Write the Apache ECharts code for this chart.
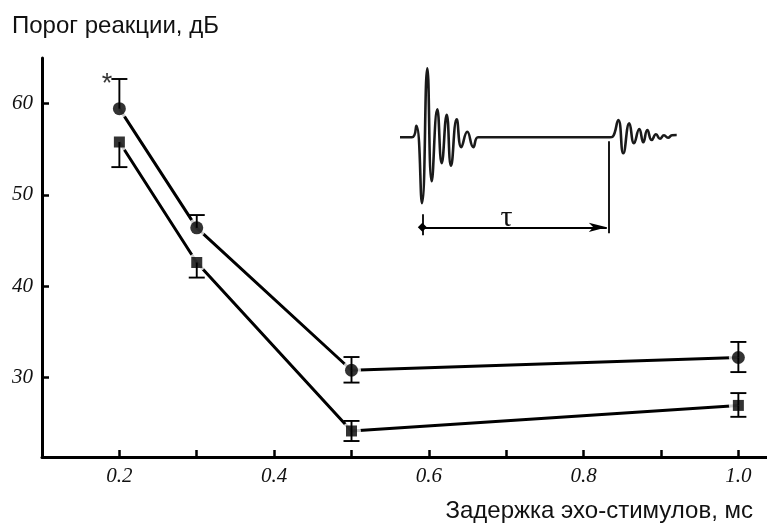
<!DOCTYPE html>
<html>
<head>
<meta charset="utf-8">
<script src="https://cdn.jsdelivr.net/npm/echarts@6/dist/echarts.min.js"></script>
<style>
  html, body { margin: 0; padding: 0; background: #fff; }
  #chart { width: 767px; height: 529px; }
</style>
</head>
<body>
<div id="chart"></div>
<script>
// Echo delays, ms
const delays = [0.2, 0.3, 0.5, 1.0];

// Response threshold, dB — circles (upper curve)
const circleMean  = [59.45, 46.4, 30.8, 32.2];
const circleUpper = [62.7, 47.8, 32.25, 33.9];
const circleLower = [null, null, 29.45, 30.6];

// Response threshold, dB — squares (lower curve)
const squareMean  = [55.8, 42.6, 24.15, 26.95];
const squareUpper = [null, null, 25.25, 28.3];
const squareLower = [53.05, 40.95, 23.05, 25.7];

// Axis ticks and labels
const xTicks  = [0.2, 0.3, 0.4, 0.5, 0.6, 0.7, 0.8, 0.9, 1.0];
const xLabels = [0.2, 0.4, 0.6, 0.8, 1.0];
const yTicks  = [30, 40, 50, 60];

// Inset: stimulus + echo waveform (time, amplitude) in arbitrary units
const waveT = [0, 12, 16.3, 22, 27.3, 31.7, 37.3, 41.7, 46.7, 51, 56.7, 61.3, 67.3, 73.3, 78, 87,
               210, 212.7, 218.3, 223.3, 229.3, 234, 239.3, 243.3, 247.3, 251.7, 256, 260, 264, 268, 272, 276.7];
const waveA = [0, 0, 11.5, -65.8, 69, -44, 28, -25.8, 22.5, -28.5, 18, -9.8, 5.5, -9.8, 0, 0,
               0, 0.6, 17.3, -16, 14, -6, 8.3, -5, 7.3, -2.7, 3, -1.5, 2, -0.5, 2, 2.3];
// Delay marker: start and end time of the τ arrow
const tauStart = 22.3;
const tauEnd = 208.3;

const pairs = (xs, ys) => xs.map((x, i) => [x, ys[i]]);

const serifItalic = { fontFamily: 'Liberation Serif', fontStyle: 'italic', fontSize: 21, color: '#111' };
const sansTitle = { fontFamily: 'Liberation Sans', fontWeight: 'normal', fontSize: 24, color: '#111' };

function errorBars(means, upper, lower) {
  return function (params, api) {
    const i = params.dataIndex;
    const x = delays[i];
    const children = [];
    const capHalf = 8;
    const style = { stroke: '#000', lineWidth: 1.9 };
    const c = api.coord([x, means[i]]);
    [upper[i], lower[i]].forEach(function (v) {
      if (v == null) return;
      const p = api.coord([x, v]);
      children.push({ type: 'line', shape: { x1: c[0], y1: c[1], x2: p[0], y2: p[1] }, style: style });
      children.push({ type: 'line', shape: { x1: p[0] - capHalf, y1: p[1], x2: p[0] + capHalf, y2: p[1] }, style: style });
    });
    return { type: 'group', children: children };
  };
}

const chart = echarts.init(document.getElementById('chart'), null, { renderer: 'canvas' });

chart.setOption({
  animation: false,
  backgroundColor: '#fff',
  title: [
    { text: 'Порог реакции, дБ', left: 7, top: 9, textStyle: sansTitle },
    { text: 'Задержка эхо-стимулов, мс', right: 9, bottom: 1, textStyle: sansTitle }
  ],
  grid: [
    { left: 42, right: 0, top: 58, bottom: 72 },
    { left: 400, top: 57.3, width: 280, height: 180 }
  ],
  xAxis: [
    {
      type: 'value', gridIndex: 0, min: 0.1, max: 1.037,
      axisLine: { lineStyle: { color: '#000', width: 3 } },
      axisTick: { inside: true, length: 7, lineStyle: { color: '#000', width: 2.5 }, customValues: xTicks },
      axisLabel: Object.assign({ margin: 9, customValues: xLabels, formatter: v => v.toFixed(1) }, serifItalic),
      splitLine: { show: false }
    },
    { type: 'value', gridIndex: 1, min: 0, max: 280, show: false }
  ],
  yAxis: [
    {
      type: 'value', gridIndex: 0, min: 21.3, max: 65,
      axisLine: { show: true, lineStyle: { color: '#000', width: 3 } },
      axisTick: { show: true, inside: true, length: 7, lineStyle: { color: '#000', width: 2.5 }, customValues: yTicks },
      axisLabel: Object.assign({ margin: 9, customValues: yTicks }, serifItalic),
      splitLine: { show: false }
    },
    { type: 'value', gridIndex: 1, min: -100, max: 80, show: false }
  ],
  series: [
    {
      type: 'line', data: pairs(delays, circleMean), symbol: 'none', z: 2,
      lineStyle: { color: '#000', width: 3 }
    },
    {
      type: 'line', data: pairs(delays, squareMean), symbol: 'none', z: 2,
      lineStyle: { color: '#000', width: 3 }
    },
    {
      // white halo that leaves a small gap between the lines and the markers
      type: 'scatter', data: pairs(delays, circleMean).concat(pairs(delays, squareMean)),
      symbol: 'circle', symbolSize: 19, silent: true, z: 3,
      itemStyle: { color: '#fff' }
    },
    {
      type: 'custom', data: pairs(delays, circleMean), z: 4, silent: true,
      renderItem: errorBars(circleMean, circleUpper, circleLower)
    },
    {
      type: 'custom', data: pairs(delays, squareMean), z: 4, silent: true,
      renderItem: errorBars(squareMean, squareUpper, squareLower)
    },
    {
      type: 'scatter', data: pairs(delays, circleMean), symbol: 'circle', symbolSize: 13, z: 5,
      itemStyle: { color: '#000' }
    },
    {
      type: 'scatter', data: pairs(delays, squareMean), symbol: 'rect', symbolSize: 11, z: 5,
      itemStyle: { color: '#000' }
    },
    {
      // significance mark above the first point
      type: 'scatter', data: [[delays[0], circleUpper[0]]], symbolSize: 0, z: 5, silent: true,
      label: {
        show: true, formatter: '*', position: 'left', distance: 7, offset: [0, 6],
        fontFamily: 'Liberation Sans', fontSize: 27, color: '#000'
      }
    },
    {
      // inset waveform
      type: 'line', xAxisIndex: 1, yAxisIndex: 1, data: pairs(waveT, waveA),
      symbol: 'none', smooth: 0.5, z: 2,
      lineStyle: { color: '#1a1a1a', width: 2.6 },
      markLine: {
        silent: true, animation: false,
        symbol: ['none', 'none'],
        lineStyle: { color: '#000', type: 'solid', width: 1.8 },
        label: { show: false },
        data: [
          [{ coord: [tauEnd, -4] }, { coord: [tauEnd, -96] }],
          [{ coord: [tauStart, -77] }, { coord: [tauStart, -98] }],
          [
            {
              coord: [tauStart, -90], symbol: 'diamond', symbolSize: 9,
              label: {
                show: true, formatter: 'τ', position: 'insideMiddleTop', distance: -6, offset: [-8, 0],
                fontFamily: 'Liberation Serif', fontSize: 30, color: '#111'
              }
            },
            { coord: [tauEnd - 1.5, -90], symbol: 'arrow', symbolSize: [7, 18] }
          ]
        ]
      }
    }
  ]
});
</script>
</body>
</html>
